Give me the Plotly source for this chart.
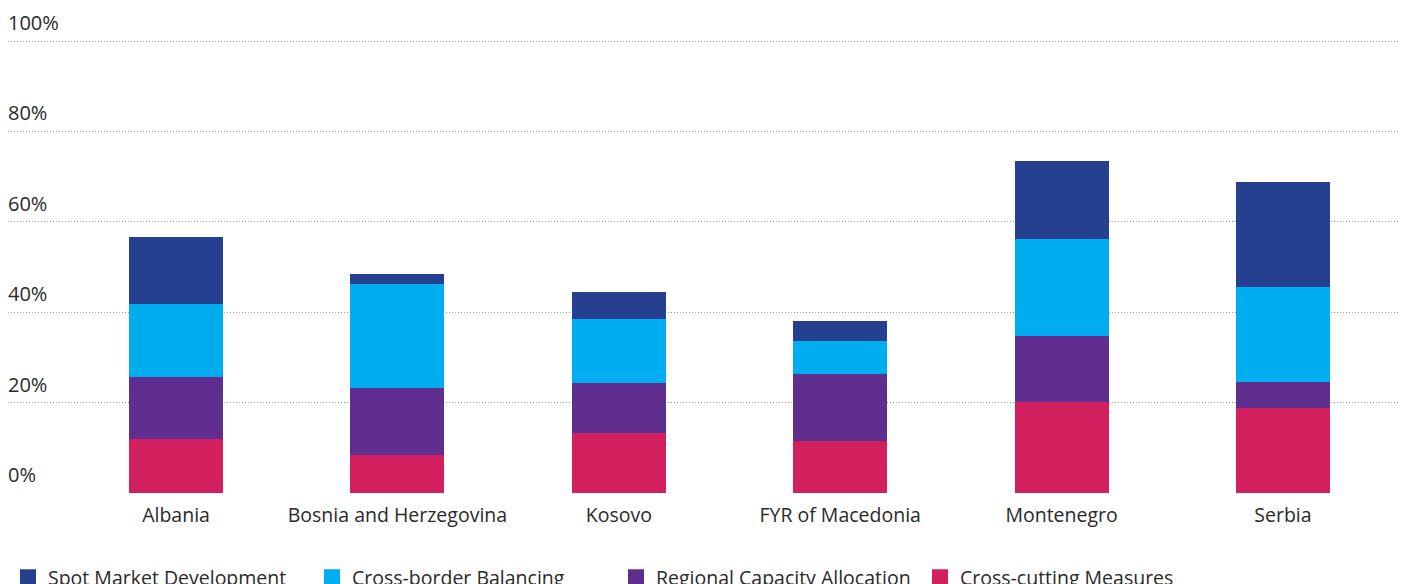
import plotly.graph_objects as go

categories = ["Albania", "Bosnia and Herzegovina", "Kosovo", "FYR of Macedonia", "Montenegro", "Serbia"]
cross_cutting = [11.9, 8.4, 13.3, 11.5, 20.1, 18.8]
regional_capacity = [13.8, 14.8, 11.0, 14.8, 14.6, 5.8]
cross_border = [16.1, 23.0, 14.2, 7.3, 21.5, 21.0]
spot_market = [14.8, 2.3, 6.0, 4.5, 17.3, 23.2]

series_names = ["Cross-cutting Measures", "Regional Capacity Allocation", "Cross-border Balancing", "Spot Market Development"]
series_values = [cross_cutting, regional_capacity, cross_border, spot_market]
colors = ["#d21f5e", "#5f2e8f", "#00aeef", "#24408e"]

y_ticks = [0, 20, 40, 60, 80, 100]
y_tick_labels = ["0%", "20%", "40%", "60%", "80%", "100%"]

FONT = "Open Sans"
TXT = "#2a2a2a"

fig = go.Figure()
for name, vals, col in zip(series_names, series_values, colors):
    fig.add_trace(go.Bar(
        x=categories, y=vals, name=name,
        marker=dict(color=col, line=dict(width=0)),
        width=0.425, showlegend=False,
    ))

# legend entries (square swatches) in reference order
for name, col in reversed(list(zip(series_names, colors))):
    fig.add_trace(go.Scatter(
        x=[None], y=[None], mode="markers", name=name,
        marker=dict(symbol="square", size=16, color=col),
        showlegend=True,
    ))

# y tick labels sit above their gridlines at the far left
for v, lab in zip(y_ticks, y_tick_labels):
    fig.add_annotation(
        x=0, xref="paper", xanchor="left", xshift=-2,
        y=v, yref="y", yanchor="bottom", yshift=3,
        text=lab, showarrow=False,
        font=dict(family=FONT, size=20, color=TXT),
    )

fig.update_layout(
    width=1408, height=584,
    barmode="stack",
    plot_bgcolor="white", paper_bgcolor="white",
    margin=dict(l=0, r=0, t=0, b=99),
    font=dict(family=FONT, size=19.5, color=TXT),
    showlegend=True,
    legend=dict(
        orientation="h", traceorder="normal",
        xref="container", yref="container",
        x=0, xanchor="left", y=0.058, yanchor="top",
        font=dict(family=FONT, size=19.5, color=TXT),
        itemwidth=30, bgcolor="rgba(0,0,0,0)",
        entrywidth=259, entrywidthmode="pixels",
    ),
    xaxis=dict(
        type="category", range=[-0.759, 5.601], automargin=False,
        showgrid=False, zeroline=False, showline=False,
        ticks="", ticklabelstandoff=8,
        tickfont=dict(family=FONT, size=19.5, color=TXT),
    ),
    yaxis=dict(
        range=[0, 107.3], tickvals=y_ticks, showticklabels=False,
        automargin=False,
        showgrid=True, gridcolor="#9a9a9a", griddash="1px,2px", gridwidth=1,
        zeroline=False, showline=False, ticks="",
    ),
)

fig.write_html("out.html")
